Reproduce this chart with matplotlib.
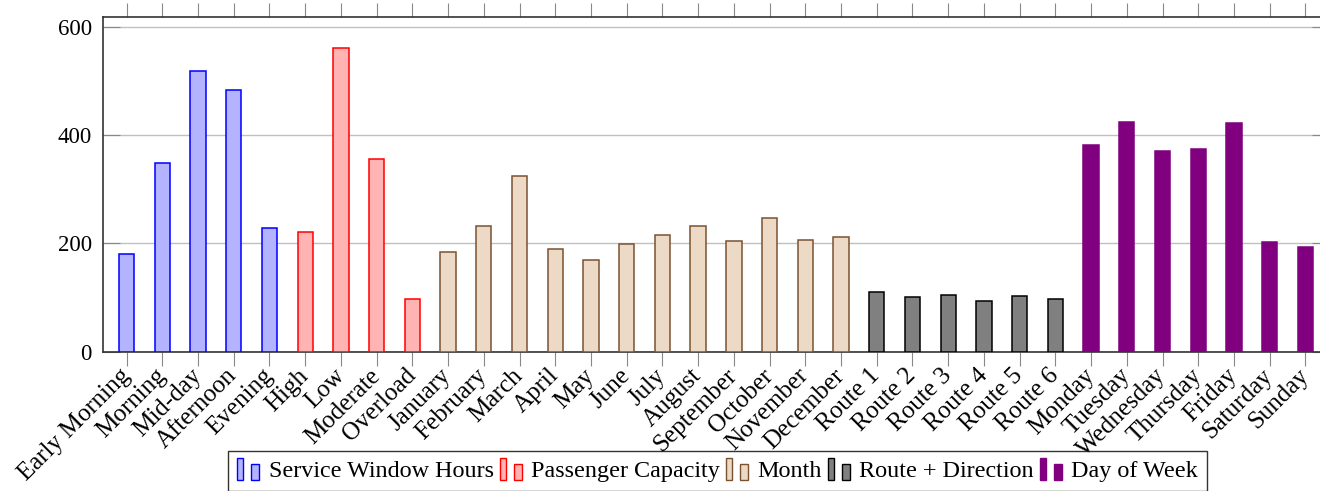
import matplotlib
matplotlib.use('Agg')
import matplotlib.pyplot as plt
from matplotlib.patches import Rectangle
from matplotlib.legend_handler import HandlerBase

# categories, grouped
service_labels = ['Early Morning', 'Morning', 'Mid-day', 'Afternoon', 'Evening']
service_vals = [180, 349, 520, 484, 229]

capacity_labels = ['High', 'Low', 'Moderate', 'Overload']
capacity_vals = [222, 562, 356, 97]

month_labels = ['January', 'February', 'March', 'April', 'May', 'June', 'July',
                'August', 'September', 'October', 'November', 'December']
month_vals = [185, 233, 325, 189, 170, 199, 215, 233, 205, 247, 206, 212]

route_labels = ['Route 1', 'Route 2', 'Route 3', 'Route 4', 'Route 5', 'Route 6']
route_vals = [110, 100, 104, 93, 102, 98]

day_labels = ['Monday', 'Tuesday', 'Wednesday', 'Thursday', 'Friday', 'Saturday', 'Sunday']
day_vals = [383, 425, 371, 375, 424, 202, 193]

groups = [
    ('Service Window Hours', service_labels, service_vals, '#b3b3ff', '#0000ff'),
    ('Passenger Capacity', capacity_labels, capacity_vals, '#ffb3b3', '#ff0000'),
    ('Month', month_labels, month_vals, '#ecd9c6', '#7a5230'),
    ('Route + Direction', route_labels, route_vals, '#808080', '#000000'),
    ('Day of Week', day_labels, day_vals, '#800080', '#800080'),
]

plt.rcParams['font.family'] = ['Liberation Serif', 'DejaVu Serif']


class TwoBars(HandlerBase):
    def create_artists(self, legend, orig_handle, xdescent, ydescent,
                       width, height, fontsize, trans):
        fc = orig_handle.get_facecolor()
        ec = orig_handle.get_edgecolor()
        x0 = -xdescent
        y0 = -ydescent - 0.2 * height
        r1 = Rectangle((x0, y0), 0.26 * width, 1.3 * height, fc=fc, ec=ec,
                       lw=1.0, transform=trans)
        r2 = Rectangle((x0 + 0.62 * width, y0), 0.34 * width, 1.0 * height,
                       fc=fc, ec=ec, lw=1.0, transform=trans)
        return [r1, r2]


fig = plt.figure(figsize=(13.2, 4.91), dpi=100)
ax = fig.add_axes([103 / 1320, 139.5 / 491, 1226 / 1320, 334.5 / 491])

all_labels = []
handles = []
pos = 0
for name, labels, vals, fc, ec in groups:
    xs = list(range(pos, pos + len(labels)))
    b = ax.bar(xs, vals, width=0.43, color=fc, edgecolor=ec, linewidth=1.1,
               label=name, zorder=3)
    handles.append(b.patches[0])
    all_labels += labels
    pos += len(labels)

ax.set_xlim(-0.66, len(all_labels) - 1 + 0.66)
ax.set_ylim(0, 619.4)
ax.set_xticks(range(len(all_labels)))
ax.set_xticklabels(all_labels, rotation=45, ha='right', va='center',
                   rotation_mode='anchor', fontsize=18)
ax.set_yticks([0, 200, 400, 600])
ax.tick_params(axis='y', direction='in', length=12, color='#888888',
               labelsize=16.5, pad=8, right=True)
ax.tick_params(axis='x', direction='out', length=10, color='#888888',
               top=True, pad=5)
ax.grid(axis='y', color='#c0c0c0', linewidth=1, zorder=0)
for s in ax.spines.values():
    s.set_color('#333333')
    s.set_linewidth(1.2)

leg = fig.legend(handles, [g[0] for g in groups], ncol=5,
                 loc='upper left', bbox_to_anchor=(228 / 1320, 1 - 451 / 491),
                 handler_map={Rectangle: TwoBars()}, fontsize=17.4,
                 frameon=True, fancybox=False, edgecolor='black',
                 handlelength=0.95, handleheight=0.7, handletextpad=0.35,
                 columnspacing=0.25, borderpad=0.38, borderaxespad=0)
leg.get_frame().set_linewidth(1.0)

fig.savefig('out.png', dpi=100)
